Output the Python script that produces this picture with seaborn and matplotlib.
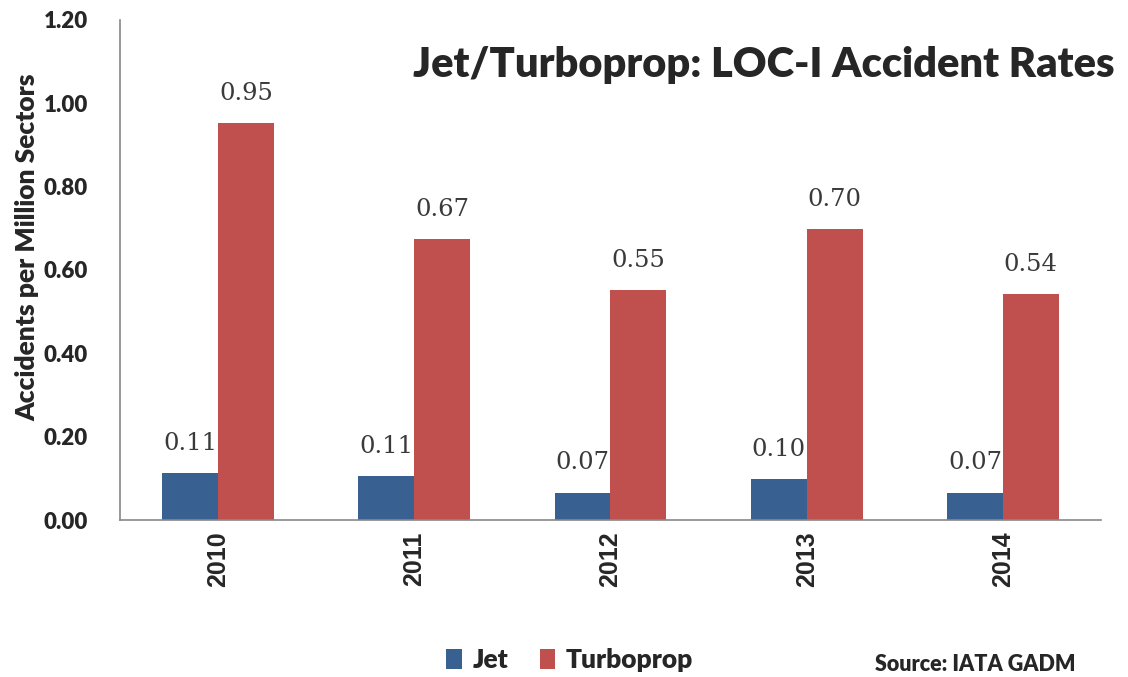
import matplotlib.pyplot as plt
import pandas as pd
import seaborn as sns
from matplotlib.ticker import FixedLocator

years = ["2010", "2011", "2012", "2013", "2014"]
jet = [0.113, 0.106, 0.066, 0.099, 0.066]
turboprop = [0.953, 0.674, 0.552, 0.699, 0.543]
series = ["Jet", "Turboprop"]
colors = ["#386192", "#C0504D"]

df = pd.DataFrame({
    "Year": years * 2,
    "Rate": jet + turboprop,
    "Series": [series[0]] * len(years) + [series[1]] * len(years),
})

sns.set_style("white")
plt.rcParams["font.family"] = ["Lato", "DejaVu Sans"]

fig = plt.figure(figsize=(11.28, 6.77), dpi=100)
ax = fig.add_axes([0.1064, 0.2319, 0.8696, 0.7386])

sns.barplot(data=df, x="Year", y="Rate", hue="Series", palette=colors,
            width=0.57, gap=0, saturation=1, linewidth=0, ax=ax)
handles, labels = ax.get_legend_handles_labels()
ax.get_legend().remove()

# value labels above every bar
for cont in ax.containers:
    ax.bar_label(cont, fmt="{:.2f}", padding=13, fontsize=17.5,
                 family="DejaVu Serif", color="#3a3a3a")

ax.set_ylim(0, 1.2)
ax.set_xlim(-0.5, len(years) - 0.5)
ax.set_yticks([0, 0.2, 0.4, 0.6, 0.8, 1.0, 1.2])
ax.set_yticklabels([f"{v:.2f}" for v in ax.get_yticks()],
                   fontsize=16, fontweight="heavy")
ax.set_xticks(range(len(years)))
ax.set_xticklabels(years, rotation=90, fontsize=18, fontweight="bold",
                   family="Liberation Sans")
ax.xaxis.set_minor_locator(FixedLocator([i - 0.5 for i in range(len(years) + 1)]))
ax.tick_params(axis="x", which="major", length=5, color="#888888", width=1.2)
ax.tick_params(axis="x", which="minor", length=8, color="#888888", width=1.2)
ax.tick_params(axis="y", length=6, color="#888888", width=1.2, pad=17)
ax.set_xlabel("")
ax.set_ylabel("Accidents per Million Sectors", fontsize=19, fontweight="heavy")
ax.yaxis.set_label_coords(-0.082, 0.546)

for side in ["top", "right"]:
    ax.spines[side].set_visible(False)
for side in ["left", "bottom"]:
    ax.spines[side].set_color("#888888")
    ax.spines[side].set_linewidth(1.2)

fig.text(0.677, 0.904, "Jet/Turboprop: LOC-I Accident Rates", ha="center",
         va="center", fontsize=30, fontweight="heavy")

fig.legend(handles, labels, loc="center", bbox_to_anchor=(0.505, 0.025),
           ncol=2, frameon=False, handlelength=0.6,
           handleheight=0.75, handletextpad=0.4, columnspacing=1.2,
           prop={"weight": "heavy", "size": 19})

fig.text(0.865, 0.018, "Source: IATA GADM", ha="center", va="center",
         fontsize=15.5, fontweight="heavy")

fig.savefig("out.png", dpi=100)
